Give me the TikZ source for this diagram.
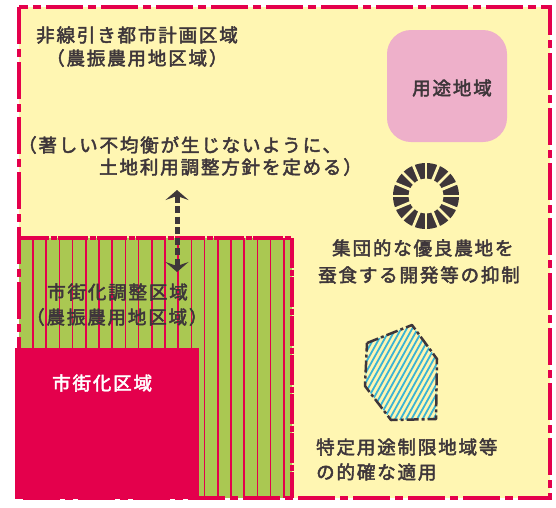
\documentclass[tikz,border=0pt]{standalone}
\usepackage{fontspec}
\newfontfamily\jp[LetterSpace=10,FakeBold=2.5]{Noto Sans CJK JP}
\usetikzlibrary{arrows.meta,calc}
\definecolor{bgyellow}{RGB}{255,246,178}
\definecolor{zred}{RGB}{228,0,76}
\definecolor{zgreen}{RGB}{170,200,82}
\definecolor{zpink}{RGB}{238,176,202}
\definecolor{zdark}{RGB}{62,54,58}
\definecolor{zcyan}{RGB}{60,180,212}
\begin{document}
\begin{tikzpicture}[x=1pt,y=-1pt,
  lab/.style={font=\jp\fontsize{18.5}{20}\selectfont, text=zdark, inner sep=0pt, anchor=west},
  frame/.style={draw=zred, line width=4.5pt, dash pattern=on 37pt off 5pt on 8pt off 5pt},
  zoneedge/.style={draw=zred, line width=3.5pt, dash pattern=on 30pt off 1.5pt on 6pt off 1.5pt},
  stripe/.style={draw=zred, line width=1.6pt},
  dbl/.style={draw=zdark, line width=5pt, dash pattern=on 7pt off 3.5pt,
     {Stealth[length=10pt,width=23pt,inset=4pt]}-{Stealth[length=10pt,width=23pt,inset=4pt]}},
  ringgap/.style={draw=bgyellow, line width=2.8pt},
  hatchedge/.style={draw=zdark, line width=2.5pt, dash pattern=on 12pt off 3pt on 3pt off 3pt, line join=round},
  hatch/.style={draw=zcyan, line width=1.8pt}
]
\useasboundingbox (0,0) rectangle (556,507);
% background
\fill[bgyellow] (19,7) rectangle (550,498);
% urbanization control area (green with stripes)
\fill[zgreen] (19,238) rectangle (292,498);
\foreach \k in {0,...,19} {
  \draw[stripe] ({33+13.2*\k},238) -- ({33+13.2*\k},498);
}
% urbanization area
\fill[zred] (15,348) rectangle (199,499);
% zone edge
\draw[zoneedge] (19,238) -- (292,238) -- (292,498);
% outer frame
\draw[frame] (19,7) rectangle (550,498);
% use district
\fill[zpink, rounded corners=24pt] (387,30) rectangle (507,142);
% ring
\coordinate (rc) at (426,196);
\fill[zdark, even odd rule] (rc) circle[radius=33] (rc) circle[radius=17.5];
\foreach \k in {0,...,15} {
  \draw[ringgap] ($(rc)+(\k*22.5:15)$) -- ($(rc)+(\k*22.5:36)$);
}
% hatched polygon
\begin{scope}
\clip (367,343) -- (412,325) -- (437,359) -- (436,419) -- (391,420) -- (365,386) -- cycle;
\foreach \x in {290,295.5,...,460} {
  \draw[hatch] (\x,430) -- (\x+61,320);
}
\end{scope}
\draw[hatchedge] (367,343) -- (412,325) -- (437,359) -- (436,419) -- (391,420) -- (365,386) -- cycle;
% double arrow
\coordinate (ua) at (177,190);
\coordinate (da) at (177,272);
\draw[dbl] (ua) -- (da);
% texts
\node[lab] (t1) at (36,35) {非線引き都市計画区域};
\node[lab] (t2) at (46,58) {（農振農用地区域）};
\node[lab] (t3a) at (18,145) {（著しい不均衡が生じないように、};
\node[lab] (t3b) at (99,167) {土地利用調整方針を定める）};
\node[lab, anchor=center] (tuse) at (452,88) {用途地域};
\node[lab] (t4a) at (332,248) {集団的な優良農地を};
\node[lab] (t4b) at (318,275) {蚕食する開発等の抑制};
\node[lab] (t5a) at (47,292) {市街化調整区域};
\node[lab] (t5b) at (26,317) {（農振農用地区域）};
\node[lab, text=white] (t6) at (52,383) {市街化区域};
\node[lab] (t7a) at (316,447) {特定用途制限地域等};
\node[lab] (t7b) at (316,472) {の的確な適用};
\end{tikzpicture}
\end{document}
